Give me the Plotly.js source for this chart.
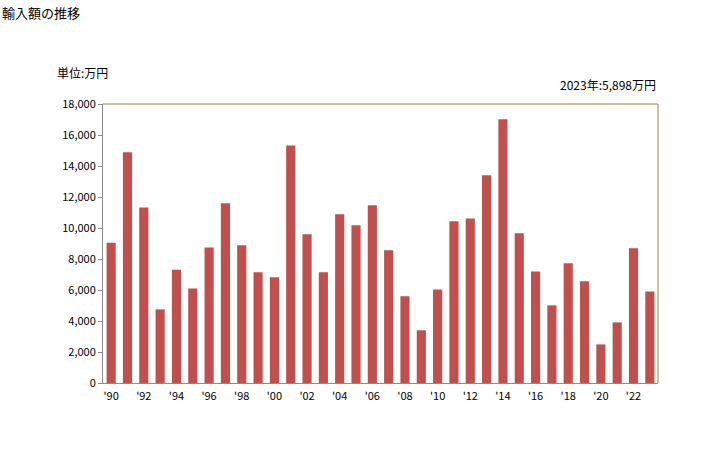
<!DOCTYPE html>
<html>
<head>
<meta charset="utf-8">
<script src="https://cdn.plot.ly/plotly-3.0.1.min.js"></script>
<style>html,body{margin:0;padding:0;background:#fff;}#chart{width:728px;height:450px;}</style>
</head>
<body>
<div id="chart"></div>
<script>
const years = ['1990','1991','1992','1993','1994','1995','1996','1997','1998','1999','2000','2001','2002','2003','2004','2005','2006','2007','2008','2009','2010','2011','2012','2013','2014','2015','2016','2017','2018','2019','2020','2021','2022','2023'];
const values = [9050,14880,11330,4750,7310,6090,8750,11590,8880,7140,6820,15330,9590,7140,10880,10170,11460,8560,5590,3400,6040,10430,10620,13400,17010,9660,7200,5010,7720,6560,2490,3910,8690,5898];
const tickYears = ['1990','1992','1994','1996','1998','2000','2002','2004','2006','2008','2010','2012','2014','2016','2018','2020','2022'];
const tickLabels = tickYears.map(y => "'" + y.slice(2));
const titleText = '輸入額の推移';
const unitText = '単位:万円';
const noteText = '2023年:5,898万円';

const font = '"Noto Sans CJK JP", "Noto Sans", sans-serif';
const frameColor = '#978945';
const axisColor = '#8C8C8C';

Plotly.newPlot('chart', [{
  type: 'bar',
  x: years,
  y: values,
  marker: {color: '#C0504D'},
  hoverinfo: 'none'
}], {
  width: 728, height: 450,
  margin: {l: 103, r: 70, t: 104, b: 67},
  paper_bgcolor: '#fff', plot_bgcolor: '#fff',
  bargap: 0.44,
  showlegend: false,
  font: {family: font, size: 11, color: '#000'},
  xaxis: {
    type: 'category',
    tickvals: tickYears, ticktext: tickLabels,
    showline: true, linecolor: axisColor, linewidth: 1,
    ticks: '', showgrid: false, zeroline: false,
    ticklabelstandoff: 3,
    tickfont: {family: font, size: 11, color: '#000'}
  },
  yaxis: {
    range: [0, 18000], dtick: 2000, tickformat: ',d',
    showline: true, linecolor: axisColor, linewidth: 1,
    ticks: 'outside', ticklen: 4, tickcolor: axisColor,
    showgrid: false, zeroline: false,
    tickfont: {family: font, size: 11, color: '#000'}
  },
  shapes: [
    {type: 'line', xref: 'paper', yref: 'paper', x0: 0, x1: 1, y0: 1, y1: 1, line: {color: frameColor, width: 1}},
    {type: 'line', xref: 'paper', yref: 'paper', x0: 1, x1: 1, y0: 0, y1: 1, line: {color: frameColor, width: 1}}
  ],
  annotations: [
    {text: titleText, xref: 'paper', yref: 'paper', x: -103/555, y: 1 + 92/279, xanchor: 'left', yanchor: 'middle', showarrow: false, font: {family: font, size: 13, color: '#000'}},
    {text: unitText, xref: 'paper', yref: 'paper', x: -48/555, y: 1 + 32/279, xanchor: 'left', yanchor: 'middle', showarrow: false, font: {family: font, size: 12, color: '#000'}},
    {text: noteText, xref: 'paper', yref: 'paper', x: 1, y: 1 + 20/279, xanchor: 'right', yanchor: 'middle', showarrow: false, font: {family: font, size: 12, color: '#000'}}
  ]
}, {displayModeBar: false, staticPlot: true});
</script>
</body>
</html>
